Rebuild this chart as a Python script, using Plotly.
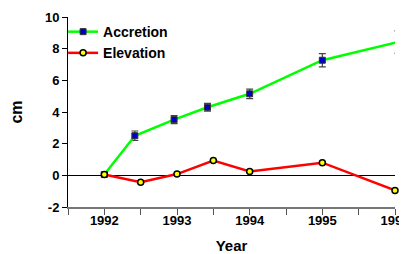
import plotly.graph_objects as go

acc_x = [1992.0, 1992.42, 1992.96, 1993.42, 1994.0, 1995.0, 1996.04]
acc_y = [0.05, 2.5, 3.52, 4.3, 5.15, 7.27, 8.42]
acc_err = [0.1, 0.3, 0.25, 0.25, 0.3, 0.42, 0.71]

elev_x = [1992.0, 1992.5, 1993.0, 1993.5, 1994.0, 1995.0, 1996.0]
elev_y = [0.05, -0.44, 0.08, 0.93, 0.25, 0.8, -0.95]
elev_err = [0.08, 0.08, 0.08, 0.08, 0.08, 0.15, 0.08]

FONT = "Liberation Sans, Arial, sans-serif"

fig = go.Figure()
fig.add_trace(go.Scatter(
    x=acc_x, y=acc_y, name="Accretion", mode="lines+markers",
    line=dict(color="#00ff00", width=2.5),
    marker=dict(symbol="square", size=6, color="#0000c8", line=dict(color="#333333", width=1)),
    error_y=dict(type="data", array=acc_err, color="#444444", thickness=1.2, width=3.5),
    cliponaxis=False,
))
fig.add_trace(go.Scatter(
    x=elev_x, y=elev_y, name="Elevation", mode="lines+markers",
    line=dict(color="#ff0000", width=2.5),
    marker=dict(symbol="circle", size=6, color="#ffff00", line=dict(color="#000000", width=1.5)),
    error_y=dict(type="data", array=elev_err, color="#555555", thickness=1, width=2.5),
    cliponaxis=False,
))

fig.update_layout(
    width=399, height=246,
    margin=dict(l=60, r=12, t=9, b=47, autoexpand=False),
    paper_bgcolor="white", plot_bgcolor="white",
    font=dict(family=FONT, size=13, color="black"),
    showlegend=True,
    legend=dict(x=-0.015, y=1.005, xanchor="left", yanchor="top",
                bgcolor="rgba(0,0,0,0)", font=dict(family=FONT, size=14, color="black", weight="bold"),
                tracegroupgap=0, itemwidth=30),
    xaxis=dict(range=[1991.5, 1996], tickvals=[1992, 1993, 1994, 1995, 1996],
               ticktext=["<b>1992</b>", "<b>1993</b>", "<b>1994</b>", "<b>1995</b>", "<b>1996</b>"],
               ticklabeloverflow="allow", automargin=False,
               showgrid=False, zeroline=False, showline=True, linecolor="#777777", linewidth=2,
               ticks="", title=dict(text="<b>Year</b>", font=dict(size=15), standoff=16),
               tickfont=dict(size=13)),
    yaxis=dict(range=[-2, 10], tickvals=[-2, 0, 2, 4, 6, 8, 10],
               ticktext=["<b>-2</b>", "<b>0</b>", "<b>2</b>", "<b>4</b>", "<b>6</b>", "<b>8</b>", "<b>10</b>"],
               automargin=False,
               showgrid=False, zeroline=True, zerolinecolor="black", zerolinewidth=1,
               showline=True, linecolor="black", linewidth=1, ticks="outside", ticklen=5,
               tickcolor="black", title=dict(text="<b>cm</b>", font=dict(size=16), standoff=19),
               tickfont=dict(size=13)),
)
fig.update_xaxes(minor=dict(tickvals=[1991.5, 1992, 1992.5, 1993, 1993.5, 1994, 1994.5, 1995, 1995.5, 1996],
                            ticks="outside", ticklen=6, tickcolor="#555555", tickwidth=1))
fig.write_html("out.html")
